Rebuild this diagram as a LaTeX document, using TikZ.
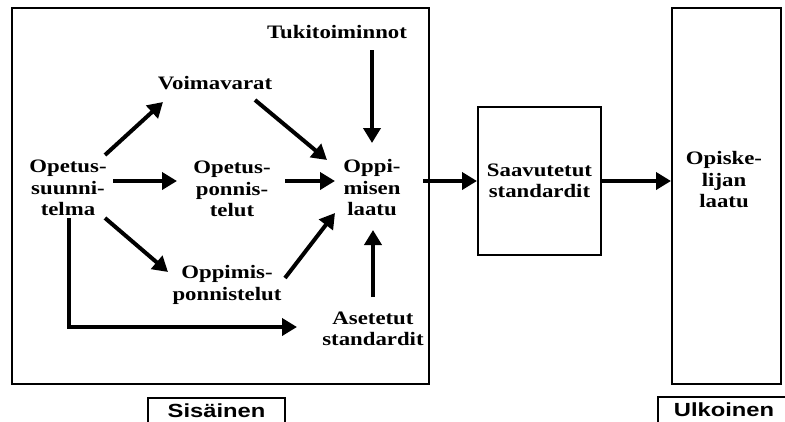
\documentclass[tikz,border=0pt]{standalone}
\usepackage{fontspec}
\setmainfont{Liberation Serif}[FakeStretch=1.2]
\setsansfont{Liberation Sans}[FakeStretch=1.25]
\usetikzlibrary{arrows.meta,calc}
\begin{document}
\begin{tikzpicture}[x=1pt,y=-1pt,
  lbl/.style={font=\bfseries\fontsize{19}{21.5}\selectfont, align=center, inner sep=0pt},
  sl/.style={font=\sffamily\bfseries\fontsize{19}{21}\selectfont, draw, line width=2pt, anchor=north, minimum height=26pt, inner sep=0pt},
  box/.style={draw, line width=2pt, inner sep=0pt},
  arr/.style={line width=4pt, -{Triangle[length=15pt,width=17pt]}}
]
\useasboundingbox (0,0) rectangle (785,421);
% frames
\node[box, minimum width=417pt, minimum height=376pt] (inner) at (220.5,196) {};
\node[box, lbl, minimum width=123pt, minimum height=148pt] (S) at (539.5,181) {Saavutetut\\standardit};
\node[box, minimum width=109pt, minimum height=376pt] (Op) at (726.5,196) {};
\node[lbl] (OpT) at (724,180) {Opiske-\\lijan\\laatu};
\node[sl, minimum width=137pt] (sis) at (216.5,397) {Sisäinen};
\node[sl, minimum width=132pt] (ulk) at (724,396) {Ulkoinen};
% text nodes
\node[lbl] (T) at (337,32) {Tukitoiminnot};
\node[lbl] (V) at (215,83) {Voimavarat};
\node[lbl] (OS) at (68,188) {Opetus-\\suunni-\\telma};
\node[lbl] (Opon) at (232,189) {Opetus-\\ponnis-\\telut};
\node[lbl] (O) at (372,188) {Oppi-\\misen\\laatu};
\node[lbl] (Om) at (227,285) {Oppimis-\\ponnistelut};
\node[lbl] (A) at (373,329) {Asetetut\\standardit};
% arrows
\draw[arr] ($(T.center)+(35,18)$) -- ($(O.center)+(0,-45)$);
\draw[arr] ($(OS.center)+(37,-33)$) -- ($(V.center)+(-52,19)$);
\draw[arr] ($(V.center)+(40,17)$) -- ($(O.center)+(-45,-28)$);
\draw[arr] ($(OS.center)+(45,-7)$) -- ($(Opon.center)+(-55,-8)$);
\draw[arr] ($(Opon.center)+(53,-8)$) -- ($(O.center)+(-37,-7)$);
\draw[arr] ($(OS.center)+(37,30)$) -- ($(Om.center)+(-59,-13)$);
\draw[arr] ($(Om.center)+(58,-7)$) -- ($(O.center)+(-37,25)$);
\draw[arr] ($(A.center)+(0,-32)$) -- ($(O.center)+(1,42)$);
\draw[arr] ($(OS.center)+(1,30)$) |- ($(A.center)+(-76,-2)$);
\draw[arr] ($(O.center)+(51,-7)$) -- (S.west);
\draw[arr] (S.east) -- (S.east -| Op.west);
\end{tikzpicture}
\end{document}
